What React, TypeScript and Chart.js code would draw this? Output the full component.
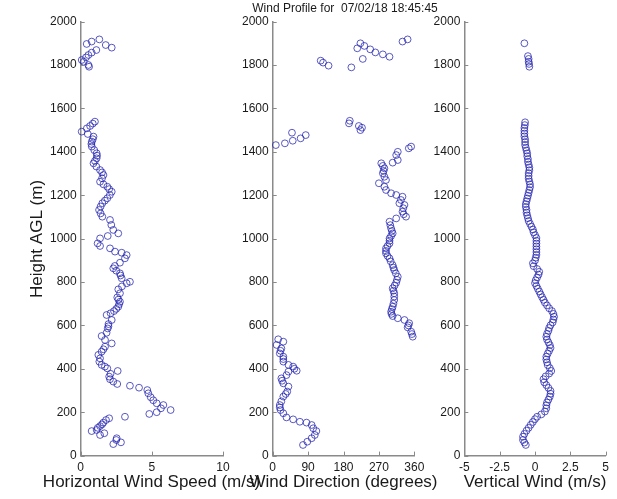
import React, { useEffect, useRef } from "react";
import { Chart, registerables } from "chart.js";

Chart.register(...registerables);

// ---------- data ----------
const chartTitle = "Wind Profile for  07/02/18 18:45:45";
const heightTicks = { min: 0, max: 2000, step: 200 };
const speedTicks = { min: 0, max: 10, step: 5 };
const directionTicks = { min: 0, max: 360, step: 90 };
const verticalTicks = { min: -5, max: 5, step: 2.5 };

const speedHeights = [
  53, 61, 72, 80, 95, 103, 113, 118, 128, 136, 144, 152, 164, 172, 179, 192, 200, 210, 218, 233,
  241, 255, 269, 287, 302, 313, 322, 330, 341, 352, 364, 377, 390, 402, 410, 418, 433, 448, 464, 479,
  490, 502, 517, 533, 551, 566, 586, 596, 606, 625, 648, 656, 666, 676, 686, 698, 709, 719, 729, 748,
  766, 780, 794, 801, 817, 830, 840, 852, 863, 874, 889, 909, 924, 935, 940, 955, 966, 978, 1001, 1012,
  1024, 1040, 1063, 1086, 1101, 1116, 1132, 1148, 1163, 1175, 1186, 1201, 1216, 1228, 1239, 1250, 1262, 1278, 1293, 1305,
  1316, 1332, 1347, 1358, 1370, 1382, 1393, 1408, 1424, 1436, 1447, 1458, 1470, 1482, 1493, 1508, 1519, 1530, 1539,
  1792, 1800, 1815, 1823, 1835, 1846, 1857, 1869, 1880, 1892, 1897, 1908, 1918,
];
const speedValues = [
  2.29, 2.83, 2.5, 2.53, 1.36, 1.66, 0.77, 1.12, 1.2, 1.36, 1.5, 1.59, 1.78, 2.0, 3.11, 4.82, 5.34, 6.32, 5.64, 5.81,
  5.34, 5.1, 4.92, 4.75, 4.68, 4.1, 3.46, 2.57, 2.29, 2.06, 2.0, 2.1, 2.6, 1.87, 1.7, 1.47, 1.31, 1.36, 1.24, 1.47,
  1.6, 1.71, 2.18, 1.71, 1.47, 1.82, 1.9, 1.95, 1.95, 2.18, 1.82, 2.1, 2.34, 2.5, 2.64, 2.7, 2.76, 2.65, 2.57, 2.76,
  2.64, 2.9, 3.23, 3.46, 2.88, 2.8, 2.76, 2.5, 2.29, 2.4, 2.76, 3.11, 3.23, 2.88, 2.41, 2.06, 1.36, 1.19, 1.36, 1.9,
  2.64, 2.29, 2.15, 2.06, 1.52, 1.4, 1.29, 1.4, 1.52, 1.7, 1.87, 2.05, 2.18, 2.0, 1.87, 1.6, 1.36, 1.5, 1.6, 1.5,
  1.36, 1.1, 0.9, 1.0, 1.12, 1.15, 1.12, 0.95, 0.78, 0.75, 0.78, 0.85, 0.9, 0.5, 0.07, 0.43, 0.66, 0.85, 1.0,
  0.59, 0.54, 0.21, 0.07, 0.37, 0.54, 0.77, 1.1, 2.18, 1.76, 0.42, 0.77, 1.31,
];

const directionHeights = [
  49, 64, 80, 95, 113, 126, 141, 152, 156, 167, 176, 195, 210, 222, 233, 250, 272, 284, 295, 318,
  333, 345, 356, 371, 387, 391, 400, 410, 418, 433, 445, 456, 471, 483, 494, 510, 525, 536,
  548, 560, 571, 591, 600, 610, 625, 633, 643, 653, 663, 675, 686, 700, 717, 733, 748, 760, 771, 784,
  797, 810, 824, 840, 855, 866, 878, 895, 909, 920, 932, 943, 955, 966, 978, 990, 1001, 1012, 1024, 1035,
  1047, 1062, 1078, 1093, 1101, 1112, 1124, 1140, 1155, 1163, 1178, 1193, 1201, 1209, 1224, 1239, 1255, 1270, 1285, 1301,
  1312, 1324, 1335, 1347, 1350, 1362, 1385, 1400, 1416, 1424,
  1431, 1439, 1451, 1462, 1477, 1488, 1500, 1511, 1519, 1531, 1543,
  1789, 1797, 1811, 1820, 1828, 1838, 1849, 1858, 1872, 1877, 1888, 1900, 1908, 1918,
];
const directionValues = [
  77, 88, 99, 107, 111, 103, 99, 86, 69, 52, 35, 27, 20, 18, 18, 22, 27, 33, 37, 40,
  27, 24, 22, 35, 40, 61, 55, 52, 40, 27, 27, 27, 18, 20, 22, 10, 27, 14,
  356, 354, 352, 343, 345, 347, 335, 318, 305, 302, 301, 303, 305, 307, 309, 309, 309, 307, 305, 310,
  314, 316, 318, 313, 309, 307, 305, 300, 297, 292, 288, 288, 288, 292, 297, 297, 297, 301, 305, 303,
  301, 299, 297, 314, 339, 333, 330, 332, 335, 322, 326, 330, 314, 301, 288, 284, 270, 288, 284, 280,
  282, 284, 280, 276, 305, 318, 314, 318, 346, 352,
  8, 31, 51, 71, 84, 49, 223, 227, 219, 194, 196,
  200, 142, 128, 122, 229, 297, 280, 261, 248, 215, 233, 223, 330, 343,
];

const verticalHeights = [
  49, 60, 72, 87, 100, 115, 128, 142, 155, 168, 179, 190, 203, 218, 232, 245, 258, 272, 285, 298,
  312, 325, 338, 352, 365, 378, 390, 403, 417, 430, 443, 456, 470, 483, 496, 509, 522, 535, 548, 561,
  575, 588, 601, 614, 627, 640, 653, 666, 679, 692, 705, 718, 730, 743, 756, 769, 782, 795, 808, 821,
  834, 847, 860, 873, 886, 899, 912, 925, 938, 951, 964, 977, 990, 1003, 1016, 1029, 1042, 1055, 1068, 1081,
  1094, 1107, 1120, 1133, 1146, 1159, 1172, 1185, 1198, 1211, 1224, 1237, 1250, 1263, 1276, 1289, 1302, 1315, 1328, 1341,
  1354, 1367, 1380, 1393, 1406, 1419, 1432, 1445, 1458, 1471, 1484, 1497, 1510, 1523, 1536,
  1792, 1805, 1815, 1828, 1841, 1900,
];
const verticalValues = [
  -0.65, -0.75, -0.85, -0.85, -0.75, -0.6, -0.45, -0.3, -0.15, 0.0, 0.15, 0.45, 0.7, 0.8, 0.8, 0.85, 0.95, 1.05, 1.1, 1.1,
  0.95, 0.8, 0.65, 0.6, 0.75, 1.0, 1.15, 1.05, 0.9, 0.85, 0.8, 0.8, 0.9, 1.0, 1.1, 1.05, 0.95, 0.85, 0.8, 0.85,
  0.95, 1.0, 1.1, 1.25, 1.3, 1.35, 1.3, 1.2, 1.0, 0.85, 0.7, 0.6, 0.5, 0.4, 0.3, 0.2, 0.1, 0.0, 0.05, 0.15,
  0.25, 0.3, 0.15, -0.1, -0.15, 0.0, 0.05, 0.1, 0.1, 0.1, 0.1, 0.1, 0.1, 0.1, 0.0, -0.1, -0.15, -0.25, -0.35, -0.45,
  -0.5, -0.55, -0.6, -0.6, -0.65, -0.65, -0.6, -0.55, -0.5, -0.45, -0.4, -0.35, -0.35, -0.4, -0.45, -0.45, -0.45, -0.4, -0.4, -0.45,
  -0.5, -0.5, -0.55, -0.55, -0.6, -0.65, -0.7, -0.7, -0.7, -0.75, -0.75, -0.75, -0.75, -0.72, -0.7,
  -0.4, -0.42, -0.45, -0.45, -0.5, -0.75,
];

const xTitles = ["Horizontal Wind Speed (m/s)", "Wind Direction (degrees)", "Vertical Wind (m/s)"];
const yTitle = "Height AGL (m)";

// ---------- styling / layout ----------
const W = 617;
const H = 499;
const TOP = 21.6;
const BOTTOM = 455.6;
const XH = 40;
const FONT = "'Liberation Sans', Arial, Helvetica, sans-serif";
const AXIS_COLOR = "#8a8a8a";
const TEXT_COLOR = "#1a1a1a";
const POINT_COLOR = "rgba(35,35,175,0.75)";

type Panel = {
  heights: number[];
  values: number[];
  ticks: { min: number; max: number; step: number };
  left: number;
  right: number;
  yAxisWidth: number;
  texts: { text: string; x: number; y: number; size: number; rotate?: boolean }[];
};

const panels: Panel[] = [
  {
    heights: speedHeights,
    values: speedValues,
    ticks: speedTicks,
    left: 80.7,
    right: 223,
    yAxisWidth: 60,
    texts: [
      { text: xTitles[0], x: 151.5, y: 482, size: 17 },
      { text: yTitle, x: 37, y: 239, size: 17, rotate: true },
    ],
  },
  {
    heights: directionHeights,
    values: directionValues,
    ticks: directionTicks,
    left: 272.7,
    right: 414.3,
    yAxisWidth: 45,
    texts: [
      { text: xTitles[1], x: 343.5, y: 482, size: 17 },
      { text: chartTitle, x: 345, y: 9, size: 12 },
    ],
  },
  {
    heights: verticalHeights,
    values: verticalValues,
    ticks: verticalTicks,
    left: 464.3,
    right: 605.7,
    yAxisWidth: 45,
    texts: [{ text: xTitles[2], x: 535, y: 482, size: 17 }],
  },
];

const inwardTicks = {
  id: "inwardTicks",
  afterDraw(chart: any) {
    const { ctx, chartArea } = chart;
    ctx.save();
    ctx.strokeStyle = AXIS_COLOR;
    ctx.lineWidth = 1;
    const xs = chart.scales.x;
    xs.ticks.forEach((_t: any, i: number) => {
      const px = Math.round(xs.getPixelForTick(i)) + 0.5;
      ctx.beginPath();
      ctx.moveTo(px, chartArea.bottom);
      ctx.lineTo(px, chartArea.bottom - 4);
      ctx.stroke();
    });
    const ys = chart.scales.y;
    ys.ticks.forEach((_t: any, i: number) => {
      const py = Math.round(ys.getPixelForTick(i)) + 0.5;
      ctx.beginPath();
      ctx.moveTo(chartArea.left, py);
      ctx.lineTo(chartArea.left + 4, py);
      ctx.stroke();
    });
    ctx.restore();
  },
};

function makeTextPlugin(texts: Panel["texts"]) {
  return {
    id: "panelTexts",
    afterDraw(chart: any) {
      const ctx = chart.ctx;
      ctx.save();
      ctx.fillStyle = TEXT_COLOR;
      ctx.textAlign = "center";
      ctx.textBaseline = "middle";
      texts.forEach((t) => {
        ctx.font = `${t.size}px ${FONT}`;
        if (t.rotate) {
          ctx.save();
          ctx.translate(t.x, t.y);
          ctx.rotate(-Math.PI / 2);
          ctx.fillText(t.text, 0, 0);
          ctx.restore();
        } else {
          ctx.fillText(t.text, t.x, t.y);
        }
      });
      ctx.restore();
    },
  };
}

const plainNumber = (v: number | string) => `${v}`;

function PanelChart({ panel }: { panel: Panel }) {
  const ref = useRef<HTMLCanvasElement | null>(null);
  useEffect(() => {
    if (!ref.current) return;
    const data = panel.heights.map((h, i) => ({ x: panel.values[i], y: h }));
    const tickFont = { family: FONT, size: 12 };
    const chart = new Chart(ref.current, {
      type: "scatter",
      data: {
        datasets: [
          {
            data,
            pointStyle: "circle",
            pointRadius: 3.4,
            pointBorderWidth: 1,
            pointBorderColor: POINT_COLOR,
            pointBackgroundColor: "rgba(0,0,0,0)",
            showLine: false,
            clip: false,
          } as any,
        ],
      },
      options: {
        animation: false,
        responsive: false,
        devicePixelRatio: 1,
        events: [],
        layout: {
          padding: {
            left: panel.left - panel.yAxisWidth,
            right: W - panel.right,
            top: TOP,
            bottom: H - BOTTOM - XH,
          },
        },
        plugins: {
          legend: { display: false },
          tooltip: { enabled: false },
          title: { display: false },
        },
        scales: {
          x: {
            type: "linear",
            min: panel.ticks.min,
            max: panel.ticks.max,
            ticks: {
              stepSize: panel.ticks.step,
              padding: 5,
              font: tickFont,
              color: TEXT_COLOR,
              maxRotation: 0,
              autoSkip: false,
              callback: plainNumber,
            },
            grid: { display: false, drawTicks: false },
            border: { display: true, color: AXIS_COLOR, width: 1.5 },
            afterFit: (s: any) => {
              s.height = XH;
            },
          },
          y: {
            type: "linear",
            min: heightTicks.min,
            max: heightTicks.max,
            ticks: {
              stepSize: heightTicks.step,
              padding: 4,
              font: tickFont,
              color: TEXT_COLOR,
              autoSkip: false,
              callback: plainNumber,
            },
            grid: { display: false, drawTicks: false },
            border: { display: true, color: AXIS_COLOR, width: 1.5 },
            afterFit: (s: any) => {
              s.width = panel.yAxisWidth;
            },
          },
        },
      },
      plugins: [inwardTicks, makeTextPlugin(panel.texts)],
    });
    return () => chart.destroy();
  }, [panel]);
  return (
    <canvas
      ref={ref}
      width={W}
      height={H}
      style={{ position: "absolute", left: 0, top: 0, width: W, height: H }}
    />
  );
}

export default function App() {
  return (
    <div
      style={{
        position: "fixed",
        left: 0,
        top: 0,
        width: W,
        height: H,
        background: "#ffffff",
        overflow: "hidden",
      }}
    >
      {panels.map((p, i) => (
        <PanelChart key={i} panel={p} />
      ))}
    </div>
  );
}
